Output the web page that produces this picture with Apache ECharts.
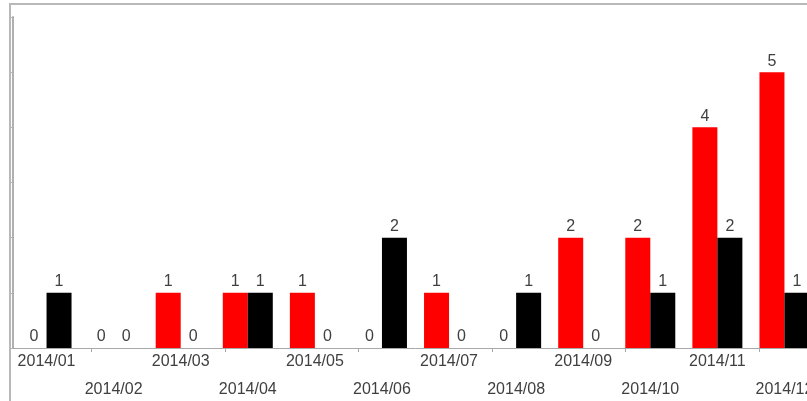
<!DOCTYPE html>
<html>
<head>
<meta charset="utf-8">
<script src="https://cdn.jsdelivr.net/npm/echarts@6/dist/echarts.min.js"></script>
<style>
html,body{margin:0;padding:0;overflow:hidden;background:#fff;width:807px;height:401px;}
#c{width:830px;height:401px;}
</style>
</head>
<body>
<div id="c"></div>
<script>
var categories = ['2014/01','2014/02','2014/03','2014/04','2014/05','2014/06','2014/07','2014/08','2014/09','2014/10','2014/11','2014/12'];
var redValues = [0,0,1,1,1,0,1,0,2,2,4,5];
var blackValues = [1,0,0,1,0,2,0,1,0,1,2,1];
var tickPositions = [1.17, 3.16, 5.15, 7.14, 9.13, 11.12];

var chart = echarts.init(document.getElementById('c'), null, {renderer:'canvas'});
var font = '"Liberation Sans", Arial, sans-serif';
var labelStyle = {show:true, position:'top', distance:3, color:'#404040', fontSize:16, fontFamily:font};
chart.setOption({
  animation:false,
  grid:{left:13, top:17, width:805, height:331},
  graphic:[{type:'rect', shape:{x:10, y:4, width:1000, height:1000}, style:{fill:'none', stroke:'#b8b8b8', lineWidth:2}, z:-1}],
  xAxis:[{
    type:'category', data:categories,
    axisLine:{show:true, lineStyle:{color:'#a8a8a8', width:1}},
    axisTick:{show:false},
    axisLabel:{interval:0, margin:4, fontFamily:font, fontSize:16, color:'#404040',
      formatter:function(v,i){ return i%2 ? '{b|'+v+'}' : '{a|'+v+'}'; },
      rich:{a:{fontSize:16, lineHeight:20, fontFamily:font, color:'#404040'},
            b:{fontSize:16, lineHeight:20, fontFamily:font, color:'#404040', padding:[56,0,0,0]}}
    }
  },{
    type:'value', position:'bottom', min:0, max:12,
    axisLine:{show:false}, axisLabel:{show:false}, splitLine:{show:false},
    axisTick:{show:true, length:4, customValues:tickPositions, lineStyle:{color:'#a8a8a8'}}
  }],
  yAxis:{
    type:'value', min:0, max:6, interval:1,
    axisLine:{show:true, onZero:false, lineStyle:{color:'#b0b0b0', width:2}},
    axisTick:{show:true, length:2, lineStyle:{color:'#b0b0b0'}},
    axisLabel:{show:false}, splitLine:{show:false}
  },
  series:[
    {type:'bar', data:redValues, barWidth:25, barGap:'0%', itemStyle:{color:'#ff0000'}, label:labelStyle},
    {type:'bar', data:blackValues, barWidth:25, barGap:'0%', itemStyle:{color:'#000000'}, label:labelStyle}
  ]
});
</script>
</body>
</html>
